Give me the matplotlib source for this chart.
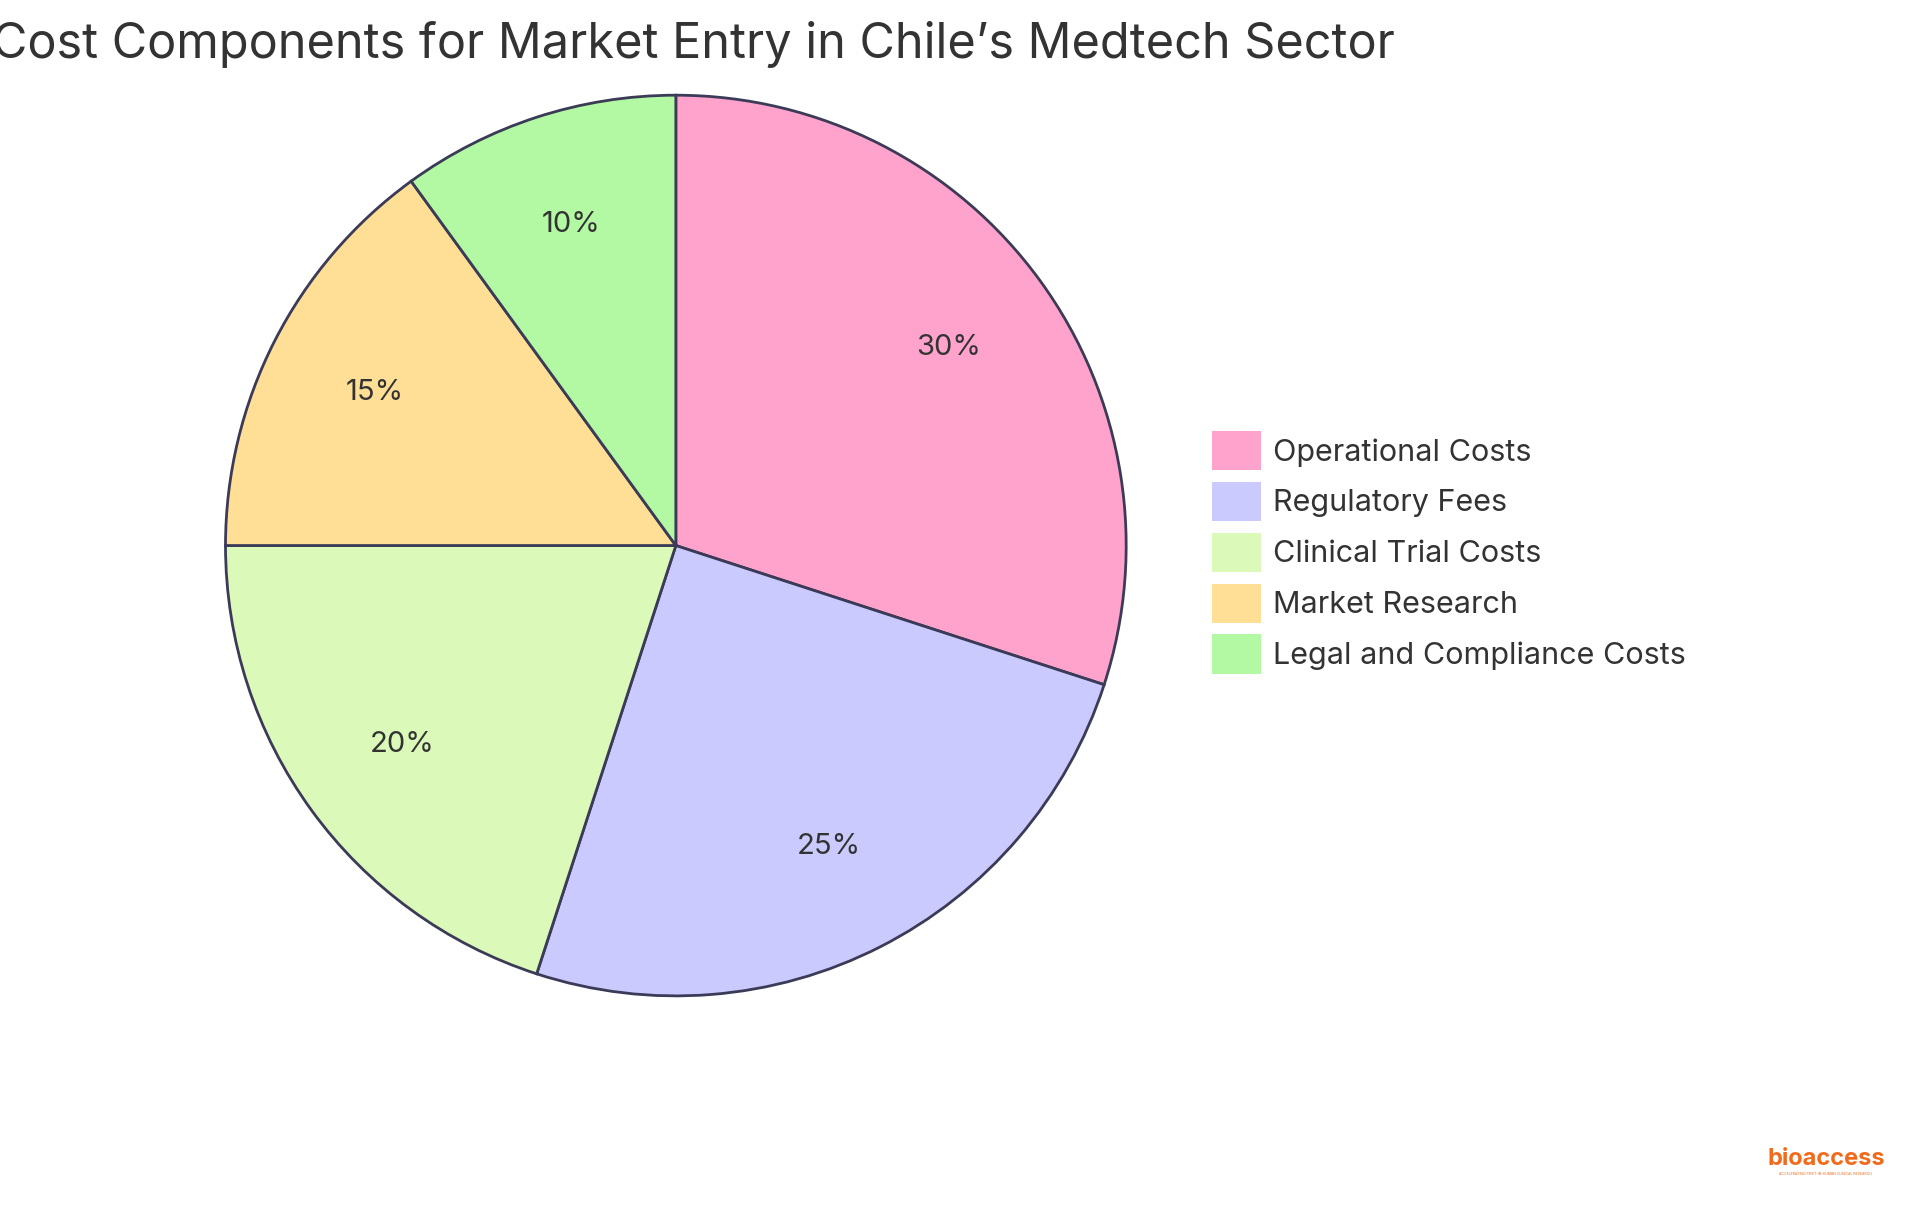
import matplotlib.pyplot as plt
from matplotlib.patches import Patch

plt.rcParams['font.family'] = ['Inter', 'DejaVu Sans']

labels = ['Operational Costs', 'Regulatory Fees', 'Clinical Trial Costs',
          'Market Research', 'Legal and Compliance Costs']
values = [30, 25, 20, 15, 10]
colors = ['#FFA3CD', '#CACAFE', '#DBF9B8', '#FFDE95', '#B3F8A3']

fig = plt.figure(figsize=(19.2, 12.15), dpi=100)
# pie axes: centre ~ (0.352, 0.551), radius ~0.37 of height
h = 0.745
w = h * 12.15 / 19.2
ax = fig.add_axes([0.352 - w / 2, 0.551 - h / 2, w, h])
wedges, texts, autotexts = ax.pie(
    values, colors=colors, startangle=90, counterclock=False,
    autopct='%d%%', pctdistance=0.75,
    wedgeprops=dict(edgecolor='#3b3b58', linewidth=2),
    textprops=dict(fontsize=21, color='#333333'))
ax.set_xlim(-1.005, 1.005)
ax.set_ylim(-1.005, 1.005)
ax.set_aspect('equal')

fig.text(0.361, 0.963, 'Cost Components for Market Entry in Chile\u2019s Medtech Sector',
         ha='center', va='center', fontsize=35, color='#333333')

handles = [Patch(facecolor=c, edgecolor='none') for c in colors]
fig.legend(handles, labels, loc='upper left', bbox_to_anchor=(0.617, 0.668),
           frameon=False, fontsize=22, handlelength=1.6, handleheight=1.6,
           labelspacing=0.38, handletextpad=0.4, labelcolor='#333333')

fig.text(0.951, 0.046, 'bioaccess', ha='center', va='center', fontsize=17,
         fontweight='bold', color='#F26B1D')
fig.text(0.951, 0.034, 'ACCELERATING FIRST-IN-HUMAN CLINICAL RESEARCH', ha='center',
         va='center', fontsize=2.5, color='#F26B1D')

fig.savefig('out.png', dpi=100)
